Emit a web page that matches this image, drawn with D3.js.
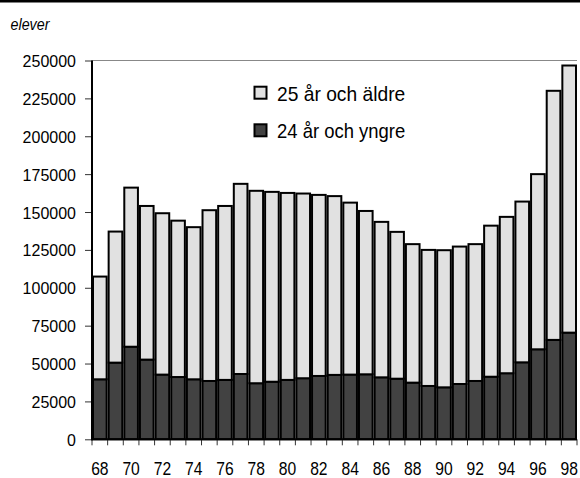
<!DOCTYPE html>
<html><head><meta charset="utf-8">
<script src="https://cdn.jsdelivr.net/npm/d3@7"></script>
<style>
html,body{margin:0;padding:0;background:#fff;}
svg{display:block;}
text{font-family:"Liberation Sans",Arial,sans-serif;fill:#000;}
</style></head>
<body>
<script>
const years = ["68","69","70","71","72","73","74","75","76","77","78","79","80","81","82","83","84","85","86","87","88","89","90","91","92","93","94","95","96","97","98"];
const yngre = [39600,50600,61100,52600,42700,41100,39600,38500,39200,43100,37000,38000,39200,40300,41800,42500,42700,42900,40900,40000,37400,35200,34300,36500,38500,41300,43600,50800,59400,65600,70400];
const aldre = [67800,86500,105000,101400,106500,103200,100400,112700,114800,125500,127000,125300,123400,121900,119500,118000,113500,107800,102600,96900,91400,89800,90500,90700,90300,99700,103200,106100,115600,164400,176300];
const xLabels = ["68","70","72","74","76","78","80","82","84","86","88","90","92","94","96","98"];
const yTicks = [0,25000,50000,75000,100000,125000,150000,175000,200000,225000,250000];
const seriesNames = ["25 år och äldre","24 år och yngre"];
const yLabel = "elever";

const W = 580, H = 478;
const mLeft = 92, mRight = 577, mTop = 60.5, mBottom = 439.3;
const svg = d3.select("body").append("svg").attr("width", W).attr("height", H);

// fit text to a width per character (condensed look)
function fit(sel, perChar){
  sel.each(function(){
    const n = this.textContent.length;
    d3.select(this).attr("textLength", n*perChar).attr("lengthAdjust","spacingAndGlyphs");
  });
}

// top rule
svg.append("rect").attr("x",0).attr("y",0).attr("width",W).attr("height",2.5).attr("fill","#000");

svg.append("text").attr("x",10.5).attr("y",29.5).attr("font-style","italic").attr("font-size",16.5).text(yLabel)
  .call(fit,6.5);

const x = d3.scaleBand().domain(years).range([mLeft,mRight]).padding(0);
const y = d3.scaleLinear().domain([0,250000]).range([mBottom,mTop]);

// plot top frame
svg.append("line").attr("x1",mLeft).attr("x2",mRight).attr("y1",mTop).attr("y2",mTop).attr("stroke","#888").attr("stroke-width",1);

const data = years.map((yr,i)=>({yr, young:yngre[i], old:aldre[i]}));
const stack = d3.stack().keys(["young","old"])(data);
const fills = {young:"#424242", old:"#e1e1e1"};

svg.append("g").selectAll("g").data(stack).join("g")
  .attr("fill", s=>fills[s.key])
  .selectAll("rect").data(s=>s).join("rect")
  .attr("x", d=>x(d.data.yr)+1)
  .attr("width", x.bandwidth()-2)
  .attr("y", d=>y(d[1]))
  .attr("height", d=>y(d[0])-y(d[1]))
  .attr("stroke","#000").attr("stroke-width",2);

// y axis
const ya = svg.append("g").attr("transform",`translate(${mLeft},0)`)
  .call(d3.axisLeft(y).tickValues(yTicks).tickSize(7).tickPadding(9).tickFormat(d3.format("d")));
ya.select(".domain").remove();
ya.selectAll(".tick line").attr("stroke","#333");
ya.selectAll(".tick text").attr("font-size",16.8).attr("font-family",null).attr("dy","0.36em").call(fit,8.9);

// x ticks at band boundaries
const bounds = d3.range(years.length+1);
const xb = d3.scaleLinear().domain([0,years.length]).range([mLeft,mRight]);
svg.append("g").selectAll("line").data(bounds).join("line")
  .attr("x1",d=>xb(d)).attr("x2",d=>xb(d)).attr("y1",mBottom).attr("y2",mBottom+6)
  .attr("stroke","#333").attr("stroke-width",1);

const xa = svg.append("g").attr("transform",`translate(0,${mBottom})`)
  .call(d3.axisBottom(x).tickValues(xLabels).tickSize(0).tickPadding(0));
xa.select(".domain").remove();
xa.selectAll(".tick text").attr("font-size",19).attr("font-family",null).attr("dy",null).attr("y",36)
  .call(fit,8.7);

// axes lines
svg.append("line").attr("x1",mLeft).attr("x2",mLeft).attr("y1",mTop).attr("y2",mBottom+1).attr("stroke","#000").attr("stroke-width",2);
svg.append("line").attr("x1",mLeft-1).attr("x2",mRight).attr("y1",mBottom).attr("y2",mBottom).attr("stroke","#000").attr("stroke-width",2);

// legend
const leg = [{name:seriesNames[0], fill:fills.old, y:86.7},{name:seriesNames[1], fill:fills.young, y:124.3}];
const lg = svg.append("g").selectAll("g").data(leg).join("g");
lg.append("rect").attr("x",254.5).attr("y",d=>d.y).attr("width",12).attr("height",12)
  .attr("fill",d=>d.fill).attr("stroke","#000").attr("stroke-width",2);
lg.append("text").attr("x",277).attr("y",d=>d.y+14).attr("font-size",21).text(d=>d.name).call(fit,8.55);
</script>
</body></html>
